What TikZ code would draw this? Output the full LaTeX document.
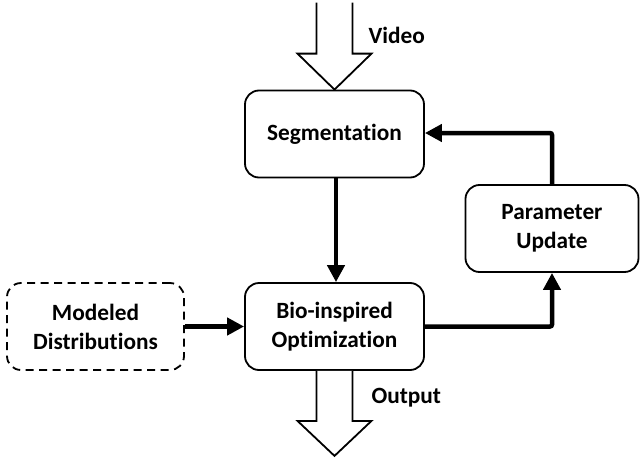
\documentclass[tikz,border=0pt]{standalone}
\usepackage{fontspec}
\setmainfont[Ligatures={NoCommon}]{Carlito}
\usetikzlibrary{arrows.meta,calc}
\begin{document}
\begin{tikzpicture}[x=1pt,y=-1pt,
  blk/.style={draw,line width=1.8pt,rounded corners=14pt,align=center,
    font=\fontsize{23.3}{29}\selectfont\bfseries,inner sep=0pt,
    minimum width=179pt,minimum height=87pt},
  dblk/.style={blk,dash pattern=on 8pt off 5.5pt},
  thk/.style={line width=4.5pt,-{Triangle[length=17pt,width=17pt]}},
  fat/.style={draw,line width=1.8pt,fill=white,line join=miter},
  lbl/.style={font=\fontsize{23.3}{29}\selectfont\bfseries}]
\useasboundingbox (0,0) rectangle (641,461);
\node[blk] (seg) at (334.5,134) {Segmentation};
\node[blk] (bio) at (334.5,326.5) {Bio-inspired\\Optimization};
\node[blk,minimum width=173pt] (par) at (552,228.5) {Parameter\\Update};
\node[dblk,minimum width=177pt] (mod) at (95.5,326.5) {Modeled\\Distributions};
% video arrow
\coordinate (vt) at (seg.north);
\draw[fat] ($(vt)+(-18,-87)$) -- ($(vt)+(-18,-36)$) -- ($(vt)+(-37,-36)$) -- (vt)
  -- ($(vt)+(37,-36)$) -- ($(vt)+(18,-36)$) -- ($(vt)+(18,-87)$);
\node[lbl,anchor=west] (vid) at (365,35) {Video};
% output arrow
\coordinate (ot) at (bio.south);
\draw[fat] ($(ot)+(-18,0)$) -- ($(ot)+(-18,50)$) -- ($(ot)+(-37,50)$) -- ($(ot)+(0,85)$)
  -- ($(ot)+(37,50)$) -- ($(ot)+(18,50)$) -- ($(ot)+(18,0)$);
\node[lbl,anchor=west] (out) at (368,398) {Output};
% connectors
\draw[thk] ($(seg.south)+(1.5,0)$) -- ($(bio.north)+(1.5,0)$);
\draw[thk] (mod.east) -- (bio.west);
\draw[thk,rounded corners=2pt] (bio.east) -| (par.south);
\draw[thk,rounded corners=2pt] (par.north) |- ($(seg.east)+(0,-1)$);
\end{tikzpicture}
\end{document}
